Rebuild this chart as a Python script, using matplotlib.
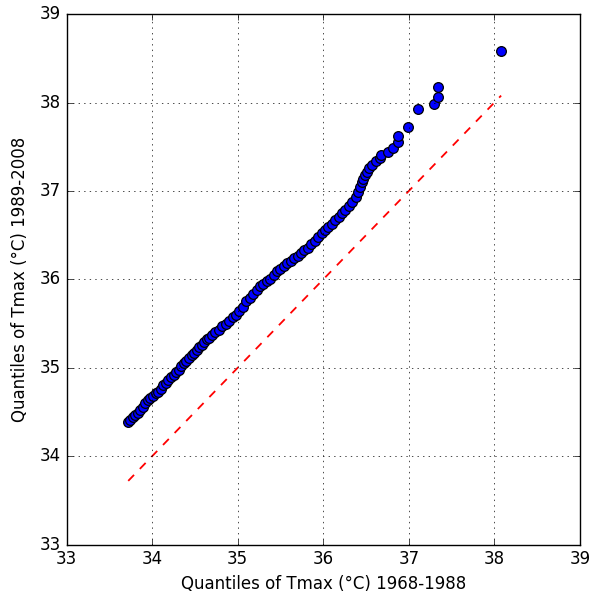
import matplotlib
matplotlib.use("Agg")
import matplotlib.pyplot as plt

# quantiles (x: 1968-1988, y: 1989-2008)
q_early = [
    33.72, 33.74, 33.77, 33.80, 33.83, 33.86, 33.89, 33.92, 33.95, 33.98,
    34.01, 34.04, 34.07, 34.10, 34.13, 34.16, 34.19, 34.22, 34.25, 34.28,
    34.31, 34.34, 34.37, 34.40, 34.43, 34.46, 34.49, 34.52, 34.55, 34.58,
    34.61, 34.64, 34.67, 34.70, 34.74, 34.78, 34.82, 34.86, 34.90, 34.94,
    34.98, 35.02, 35.06, 35.10, 35.14, 35.18, 35.22, 35.26, 35.30, 35.34,
    35.38, 35.42, 35.46, 35.50, 35.54, 35.58, 35.62, 35.66, 35.70, 35.74,
    35.78, 35.82, 35.86, 35.90, 35.94, 35.98, 36.02, 36.06, 36.10, 36.14,
    36.18, 36.22, 36.26, 36.30, 36.34, 36.38, 36.41, 36.43, 36.45, 36.47,
    36.49, 36.51, 36.54, 36.57, 36.62,
    36.66, 36.68, 36.76, 36.81, 36.87, 36.87, 36.99, 37.11, 37.30, 37.34,
    37.34, 38.08,
]
q_late = [
    34.39, 34.41, 34.44, 34.46, 34.49, 34.52, 34.56, 34.60, 34.63, 34.66,
    34.68, 34.71, 34.73, 34.76, 34.80, 34.83, 34.86, 34.89, 34.92, 34.95,
    34.98, 35.02, 35.05, 35.08, 35.11, 35.14, 35.17, 35.20, 35.23, 35.26,
    35.29, 35.32, 35.34, 35.37, 35.40, 35.43, 35.47, 35.50, 35.53, 35.57,
    35.60, 35.64, 35.69, 35.75, 35.79, 35.84, 35.88, 35.92, 35.95, 35.98,
    36.01, 36.05, 36.09, 36.12, 36.15, 36.18, 36.21, 36.24, 36.27, 36.30,
    36.33, 36.36, 36.40, 36.44, 36.48, 36.53, 36.56, 36.59, 36.63, 36.67,
    36.71, 36.75, 36.79, 36.83, 36.88, 36.93, 36.99, 37.05, 37.10, 37.14,
    37.18, 37.22, 37.26, 37.30, 37.34,
    37.37, 37.41, 37.44, 37.49, 37.56, 37.62, 37.72, 37.93, 37.99, 38.06,
    38.18, 38.59,
]

ticks = [33, 34, 35, 36, 37, 38, 39]


def main() -> None:
    plt.style.use("classic")
    fig = plt.figure(figsize=(5.9, 6.01), dpi=100, facecolor="white")
    ax = fig.add_axes([0.113, 0.094, 0.8697, 0.8822])

    ax.plot(q_early, q_late, "o", mfc="b", mec="k", ms=7, mew=0.9)

    # 1:1 reference line over the range of the early-period quantiles
    lo, hi = min(q_early), max(q_early)
    ax.plot([lo, hi], [lo, hi], "r--", lw=1.3)

    ax.set_xlim(33, 39)
    ax.set_ylim(33, 39)
    ax.set_xticks(ticks)
    ax.set_yticks(ticks)
    ax.grid(True)
    ax.set_xlabel("Quantiles of Tmax (°C) 1968-1988")
    ax.set_ylabel("Quantiles of Tmax (°C) 1989-2008", labelpad=8)

    fig.savefig("out.png", dpi=100, facecolor="white")
    plt.close(fig)


if __name__ == "__main__":
    main()
